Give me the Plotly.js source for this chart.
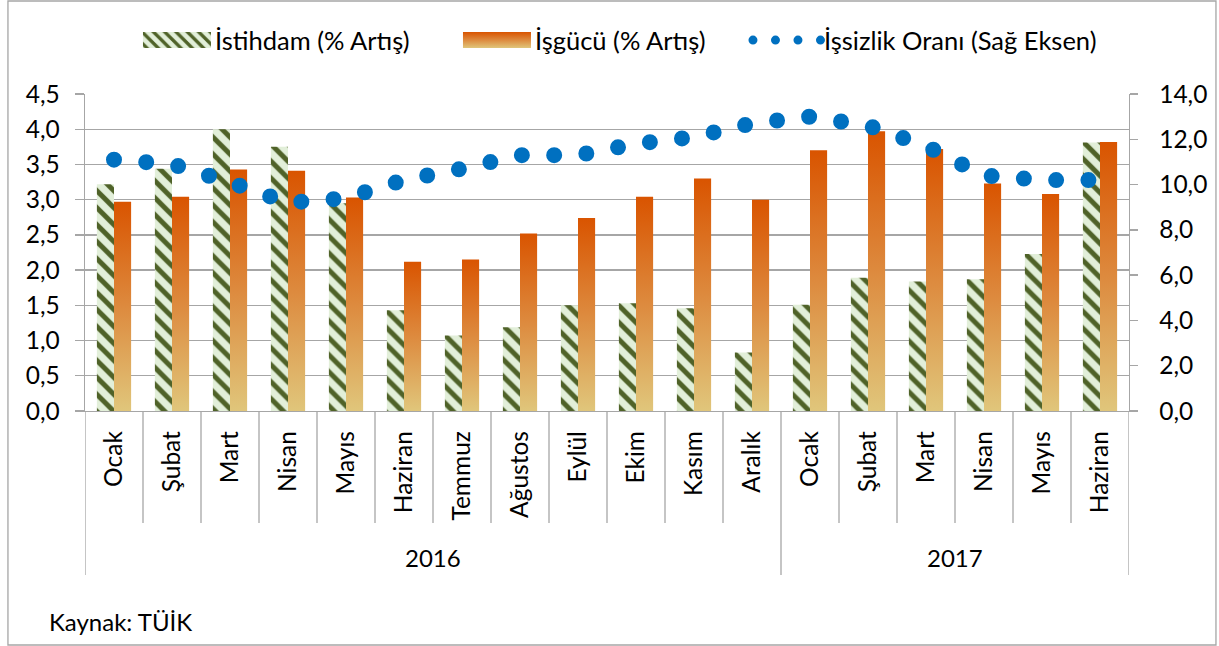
<!DOCTYPE html>
<html><head><meta charset="utf-8">
<script src="https://cdn.plot.ly/plotly-3.0.1.min.js"></script>
<style>
html,body{margin:0;padding:0;background:#fff;overflow:hidden;}
#chart{width:1219px;height:646px;}
.scatterlayer .js-line{stroke-linecap:round;}
</style></head><body><div id="chart"></div>
<script>
const months = ['Ocak','Şubat','Mart','Nisan','Mayıs','Haziran','Temmuz','Ağustos','Eylül','Ekim','Kasım','Aralık',
                'Ocak','Şubat','Mart','Nisan','Mayıs','Haziran'];
const years = ['2016','2016','2016','2016','2016','2016','2016','2016','2016','2016','2016','2016',
               '2017','2017','2017','2017','2017','2017'];
const istihdam = [3.22,3.44,4.00,3.75,2.95,1.43,1.07,1.19,1.50,1.53,1.46,0.83,1.51,1.89,1.84,1.87,2.23,3.81];
const isgucu   = [2.97,3.04,3.43,3.41,3.03,2.12,2.15,2.52,2.74,3.04,3.30,3.00,3.70,3.97,3.72,3.23,3.08,3.82];
const issizlik = [11.1,10.9,10.1,9.2,9.4,10.2,10.7,11.3,11.3,11.8,12.1,12.7,13.0,12.6,11.7,10.4,10.2,10.2];
const seriesNames = ['İstihdam (% Artış)','İşgücü (% Artış)','İşsizlik Oranı (Sağ Eksen)'];
const sourceText = 'Kaynak: TÜİK';

const FONT = 'Lato, "Open Sans", sans-serif';
const FS_TICK = 24.5;
const FS_LEG = 25.5;
const FS_ANN = 24;
const GRID = '#A6A6A6';
const xs = months.map((m,i)=>i);

const data = [
  {type:'bar', name:seriesNames[0], x:xs, y:istihdam, yaxis:'y',
   marker:{color:'#E2EFD9', line:{width:0},
     pattern:{shape:'\\', bgcolor:'#E2EFD9', fgcolor:'#4F6228', size:12, solidity:0.42, fillmode:'replace'}}},
  {type:'bar', name:seriesNames[1], x:xs, y:isgucu, yaxis:'y',
   marker:{color:'#DD8A3E', line:{width:0}}},
  {type:'scatter', mode:'lines', name:seriesNames[2], x:xs, y:issizlik, yaxis:'y2',
   line:{color:'#0070C0', width:16, dash:'0px,32.3px', simplify:false}}
];

// divider lines below the category axis
const shapes = [];
for(let i=0;i<=months.length;i++){
  const long = (i===0 || i===months.length || years[i]!==years[i-1]);
  shapes.push({type:'line', xref:'x', yref:'paper', x0:i-0.5, x1:i-0.5, y0:0, y1: long ? -0.5174 : -0.3533,
               line:{color:GRID, width:1.3}});
}
shapes.push({type:'rect', xref:'paper', yref:'paper', x0:-0.0738, x1:1.0833, y0:-0.7382, y1:1.2934,
             line:{color:GRID, width:1.3}, fillcolor:'rgba(0,0,0,0)'});

const annotations = [];
const uniqueYears = [...new Set(years)];
uniqueYears.forEach(yr=>{
  const first = years.indexOf(yr), last = years.lastIndexOf(yr);
  annotations.push({text:yr, x:(first+last)/2, xref:'x', y:-0.4637, yref:'paper', showarrow:false,
                    xanchor:'center', yanchor:'middle', font:{family:FONT, size:FS_ANN, color:'#000'}});
});
annotations.push({text:sourceText, x:-0.0364, xref:'paper', y:-0.6656, yref:'paper', showarrow:false,
                  xanchor:'left', yanchor:'middle', font:{family:FONT, size:FS_ANN, color:'#000'}});

const layout = {
  width:1219, height:646, autosize:false,
  margin:{l:85, r:90, t:94, b:235, pad:0},
  paper_bgcolor:'#fff', plot_bgcolor:'#fff',
  separators:',.',
  font:{family:FONT, size:FS_TICK, color:'#000'},
  barmode:'group', bargap:0.41, bargroupgap:0,
  xaxis:{type:'linear', range:[-0.5, months.length-0.5], tickmode:'array', tickvals:xs, ticktext:months,
         tickangle:-90, ticks:'', showgrid:false, zeroline:false, showline:true, linecolor:GRID, linewidth:1.3,
         ticklabelstandoff:9, tickfont:{family:FONT, size:FS_TICK, color:'#000'}, fixedrange:true},
  yaxis:{range:[0,4.5], dtick:0.5, tick0:0, tickformat:'.1f', showgrid:true, gridcolor:GRID, gridwidth:1.3,
         zeroline:false, showline:true, linecolor:GRID, linewidth:1.3, ticks:'outside', ticklen:9,
         tickcolor:GRID, tickwidth:1.3, ticklabelstandoff:10, tickfont:{family:FONT, size:FS_TICK, color:'#000'}},
  yaxis2:{range:[0,14], dtick:2, tick0:0, tickformat:'.1f', overlaying:'y', side:'right', showgrid:false,
         zeroline:false, showline:true, linecolor:GRID, linewidth:1.3, ticks:'outside', ticklen:8,
         tickcolor:GRID, tickwidth:1.3, ticklabelstandoff:16, tickfont:{family:FONT, size:FS_TICK, color:'#000'}},
  showlegend:true,
  legend:{orientation:'h', x:0.0517, xanchor:'left', y:1.1688, yanchor:'middle', itemwidth:66,
          font:{family:FONT, size:FS_LEG, color:'#000'}, bgcolor:'rgba(0,0,0,0)', traceorder:'normal'},
  shapes:shapes, annotations:annotations
};
data[0].legendwidth = 239;
data[1].legendwidth = 208;

const gd = document.getElementById('chart');
Plotly.newPlot(gd, data, layout, {staticPlot:true, displayModeBar:false}).then(function(){
  const ns = 'http://www.w3.org/2000/svg';
  const svg = gd.querySelector('svg.main-svg');
  let defs = svg.querySelector('defs');
  const lg = document.createElementNS(ns,'linearGradient');
  lg.setAttribute('id','orangeGrad'); lg.setAttribute('x1','0'); lg.setAttribute('y1','0');
  lg.setAttribute('x2','0'); lg.setAttribute('y2','1');
  [['0','#D95400'],['0.5','#DD8A3E'],['1','#E0C67B']].forEach(s=>{
    const st = document.createElementNS(ns,'stop');
    st.setAttribute('offset', s[0]); st.setAttribute('stop-color', s[1]); lg.appendChild(st);
  });
  defs.appendChild(lg);
  const barTraces = gd.querySelectorAll('.barlayer .trace');
  if(barTraces[1]) barTraces[1].querySelectorAll('path').forEach(p=>{ p.style.fill='url(#orangeGrad)'; });
  gd.querySelectorAll('.scatterlayer path.js-line').forEach(p=>{ p.style.strokeLinecap='round'; });
  const items = gd.querySelectorAll('.legend .traces');
  items.forEach((it, i)=>{
    if(i<2){
      it.querySelectorAll('.legendpoints path').forEach(p=>{
        p.setAttribute('d','M4,-8H72V8H4Z'); p.removeAttribute('transform');
        if(i===1) p.style.fill='url(#orangeGrad)';
        p.style.strokeWidth='0';
      });
    } else {
      it.querySelectorAll('.legendlines path, .legendpoints path').forEach(p=>{
        p.setAttribute('d','M5,0h68.5'); p.removeAttribute('transform');
        p.style.strokeWidth='9px'; p.style.strokeDasharray='0px,22.5px'; p.style.strokeLinecap='round';
      });
    }
  });
});
</script></body></html>
